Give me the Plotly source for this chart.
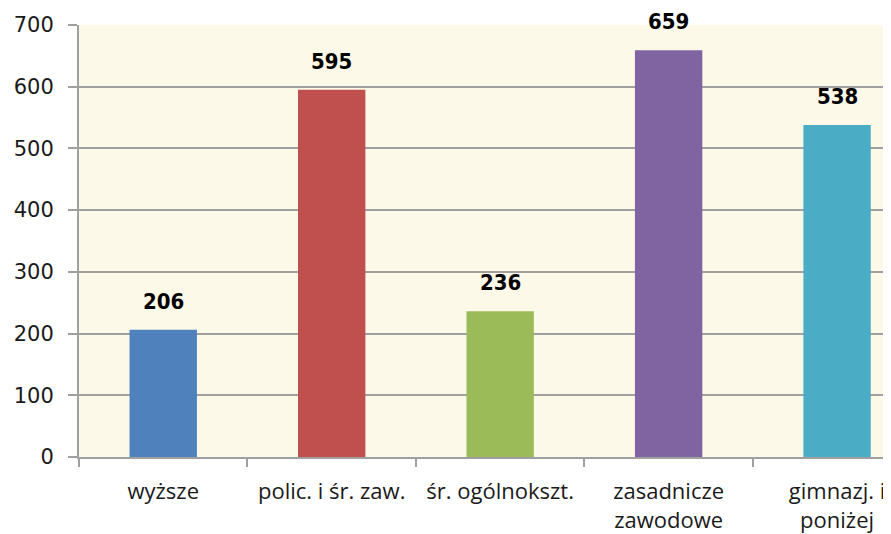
import plotly.graph_objects as go

categories = ["wyższe", "polic. i śr. zaw.", "śr. ogólnokszt.", "zasadnicze<br>zawodowe", "gimnazj. i<br>poniżej"]
values = [206, 595, 236, 659, 538]
colors = ["#4F81BD", "#C0504D", "#9BBB59", "#8064A2", "#4BACC6"]
y_ticks = [0, 100, 200, 300, 400, 500, 600, 700]

fig = go.Figure()
fig.add_trace(go.Bar(
    x=categories, y=values, marker=dict(color=colors, line=dict(width=0)),
    width=0.4, showlegend=False, hoverinfo="x+y",
))
for c, v in zip(categories, values):
    fig.add_annotation(x=c, y=v, text=str(v), showarrow=False, yanchor="bottom", yshift=14,
                       font=dict(family="DejaVu Sans Condensed, DejaVu Sans", size=22,
                                 color="#000000", weight="bold"))

fig.update_layout(
    width=883, height=526,
    margin=dict(l=71, r=0, t=17, b=77),
    paper_bgcolor="#FFFFFF", plot_bgcolor="#FDF9E8",
    bargap=0.6,
    xaxis=dict(
        type="category", range=[-0.5, 4.32], tickson="boundaries",
        ticks="outside", ticklen=8, tickcolor="#A0A0A0", tickwidth=2,
        showline=True, linecolor="#A0A0A0", linewidth=2, automargin=False,
        showgrid=False, ticklabelstandoff=14,
        tickfont=dict(family="Open Sans", size=22, color="#1A1A1A"),
    ),
    yaxis=dict(
        range=[0, 700], tickvals=y_ticks, ticks="outside", ticklen=9,
        tickcolor="#A0A0A0", tickwidth=2, automargin=False,
        showline=True, linecolor="#A0A0A0", linewidth=2,
        showgrid=True, gridcolor="#A0A0A0", gridwidth=2, zeroline=False,
        ticklabelstandoff=10,
        tickfont=dict(family="DejaVu Sans", size=21, color="#1A1A1A"),
    ),
)
fig.write_html("out.html")
